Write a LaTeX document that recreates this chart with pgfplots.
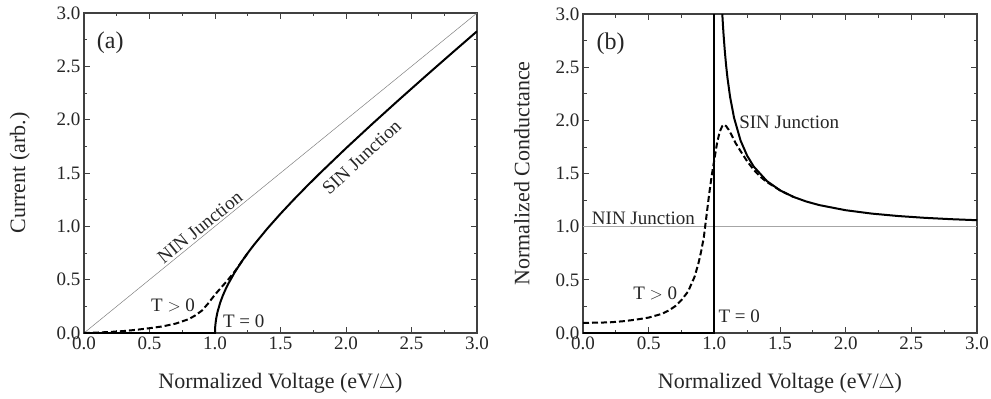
\documentclass[border=0pt]{standalone}
\usepackage{fontspec}
\setmainfont{Liberation Serif}
\usepackage{pgfplots}
\pgfplotsset{compat=1.18}
\pgfplotsset{
  myax/.style={
    scale only axis, xmin=0, xmax=3, ymin=0, ymax=3,
    xtick={0,0.5,1,1.5,2,2.5,3}, ytick={0,0.5,1,1.5,2,2.5,3},
    xticklabels={0.0,0.5,1.0,1.5,2.0,2.5,3.0},
    yticklabels={0.0,0.5,1.0,1.5,2.0,2.5,3.0},
    minor tick num=1, tick align=inside, xtick pos=both, ytick pos=both,
    major tick length=6pt, minor tick length=3.5pt,
    tick label style={font=\fontsize{19}{22}\selectfont, black!85},
    label style={font=\fontsize{22}{26}\selectfont, black!85},
    axis line style={line width=1.1pt, black!75},
    every tick/.style={black!75, line width=0.8pt},
    xlabel style={at={(axis description cs:0.5,-0.156)}, anchor=center},
  },
}
\tikzset{
  sol/.style={black, line width=2pt},
  dsh/.style={black, line width=2pt, dash pattern=on 6pt off 3pt},
  ann/.style={font=\fontsize{19}{22}\selectfont, black!85},
}
\begin{document}
\begin{tikzpicture}
\useasboundingbox (-84pt,-66pt) rectangle (907pt,333pt);
\begin{axis}[myax, at={(0pt,0pt)}, anchor=south west, width=393pt, height=320pt,
  xlabel={Normalized Voltage (eV/$\Delta$)}, ylabel={Current (arb.)},
  ylabel style={at={(axis description cs:-0.163,0.5)}, anchor=center}]
\addplot[gray, line width=0.5pt] coordinates {(0,0)(3,3)};
\addplot[sol] coordinates {(0,0)(1,0)(1.001,0.0447)(1.002,0.0633)(1.005,0.1001)(1.01,0.1418)(1.02,0.2010)(1.04,0.2857)(1.06,0.3516)(1.08,0.4075)(1.1,0.4583)(1.15,0.5679)(1.2,0.6633)(1.25,0.75)(1.3,0.8307)(1.4,0.9798)(1.5,1.1180)(1.6,1.2490)(1.7,1.3748)(1.8,1.4967)(2.0,1.7321)(2.2,1.9596)(2.4,2.1817)(2.6,2.4)(2.8,2.6153)(3.0,2.8284)};
\addplot[dsh] coordinates {(0,0)(0.1,0.004)(0.2,0.01)(0.3,0.018)(0.4,0.03)(0.5,0.045)(0.6,0.062)(0.7,0.088)(0.8,0.13)(0.85,0.165)(0.9,0.21)(0.95,0.28)(1.0,0.36)(1.05,0.43)(1.1,0.50)(1.15,0.575)(1.2,0.662)(1.25,0.75)};
\node[ann] at (axis cs:0.2,2.72) {\fontsize{24}{28}\selectfont (a)};
\node[ann, rotate=39] at (axis cs:0.885,0.99) {NIN Junction};
\node[ann, rotate=43] at (axis cs:2.12,1.65) {SIN Junction};
\node[ann] at (axis cs:0.68,0.26) {T $>$ 0};
\node[ann] at (axis cs:1.22,0.11) {T = 0};
\end{axis}
\begin{axis}[myax, at={(499pt,0pt)}, anchor=south west, width=394pt, height=319pt,
  xlabel={Normalized Voltage (eV/$\Delta$)}, ylabel={Normalized Conductance},
  ylabel style={at={(axis description cs:-0.155,0.5)}, anchor=center}]
\addplot[gray!70, line width=1pt] coordinates {(0,1)(3,1)};
\addplot[sol] coordinates {(0,0)(1,0)(1,3.05)};
\addplot[sol] coordinates {(1.0607,3.0)(1.065,2.907)(1.07,2.811)(1.08,2.648)(1.09,2.513)(1.1,2.400)(1.12,2.220)(1.15,2.025)(1.2,1.809)(1.25,1.667)(1.3,1.565)(1.4,1.429)(1.5,1.342)(1.6,1.281)(1.7,1.2366)(1.8,1.2027)(2.0,1.1547)(2.2,1.1227)(2.4,1.1001)(2.6,1.0833)(2.8,1.0706)(3.0,1.0607)};
\addplot[dsh] coordinates {(0,0.095)(0.1,0.097)(0.2,0.10)(0.3,0.11)(0.4,0.125)(0.5,0.145)(0.6,0.18)(0.65,0.21)(0.7,0.25)(0.75,0.31)(0.8,0.39)(0.85,0.53)(0.88,0.66)(0.9,0.77)(0.92,0.9)(0.94,1.1)(0.96,1.3)(0.98,1.48)(1.0,1.63)(1.02,1.78)(1.04,1.89)(1.06,1.945)(1.075,1.96)(1.09,1.945)(1.11,1.91)(1.13,1.865)(1.16,1.79)(1.2,1.71)(1.25,1.615)(1.3,1.535)(1.35,1.47)(1.4,1.42)(1.5,1.342)(1.6,1.281)};
\node[ann] at (axis cs:0.21,2.72) {\fontsize{24}{28}\selectfont (b)};
\node[ann] at (axis cs:1.57,1.98) {SIN Junction};
\node[ann] at (axis cs:0.46,1.08) {NIN Junction};
\node[ann] at (axis cs:0.55,0.37) {T $>$ 0};
\node[ann] at (axis cs:1.19,0.16) {T = 0};
\end{axis}
\end{tikzpicture}
\end{document}
